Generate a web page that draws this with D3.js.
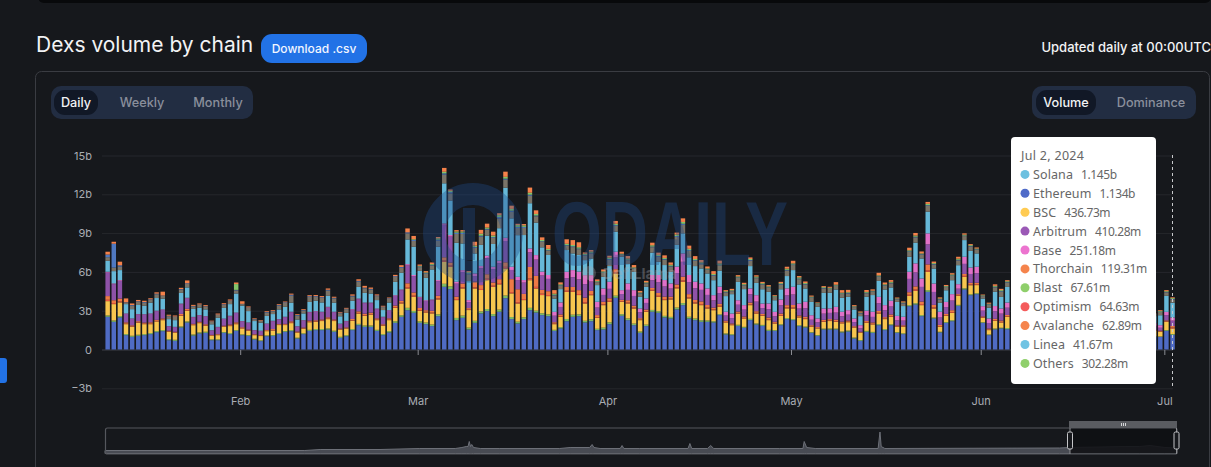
<!DOCTYPE html>
<html>
<head>
<meta charset="utf-8">
<title>Dexs volume by chain</title>
<script src="https://cdnjs.cloudflare.com/ajax/libs/d3/7.8.5/d3.min.js"></script>
<style>
    html, body { margin: 0; padding: 0; background: #16181c; overflow: hidden; }
    svg { display: block; font-family: Inter, "Noto Sans", sans-serif; }
</style>
</head>
<body>
<div id="chart"></div>
<script>
// Daily values in billions. Days behind the tooltip are left out.
const ethereum = [
    2.53,2.14,2.48,1.11,.98,1.06,1.11,1.19,1.34,1.42,
    .72,.67,1.70,2.09,1.08,1.24,1.29,.72,.72,1.29,
    1.19,1.44,1.11,1.06,.77,.65,1.03,1.06,1.19,1.37,
    1.42,.85,1.19,1.44,1.50,1.50,1.55,1.37,.90,1.03,
    1.50,1.88,1.75,1.75,1.44,1.11,1.32,2.06,2.53,3.04,
    2.84,2.06,1.96,1.81,2.58,4.85,4.67,2.27,2.45,1.55,
    2.06,2.79,2.97,2.58,2.92,3.97,2.35,2.01,2.35,3.04,
    2.86,2.66,2.58,1.44,1.63,2.19,2.53,2.58,2.09,2.19,
    1.50,1.55,1.96,4.00,2.61,2.27,1.88,1.29,1.81,2.92,
    2.84,2.48,2.40,3.10,3.43,2.40,2.27,2.14,2.14,2.09,
    2.66,1.16,1.11,1.83,1.68,2.27,1.93,1.83,1.44,1.44,
    1.88,2.35,2.27,1.81,1.70,1.29,1.06,1.55,1.55,1.55,
    1.32,1.39,.85,.67,1.37,1.29,1.88,1.50,1.88,1.29,
    1.19,3.35,3.48,2.58,4.46,2.40,1.32,2.06,2.19,3.38,
    4.64,4.20,4.28,2.06,1.11,1.55,1.63,1.57,.98,.98,1.44,1.134
];
const othersLow = [
    .10,.10,.10,.08,.08,.08,.08,.08,.08,.08,
    .08,.08,.08,.08,.08,.08,.08,.06,.06,.06,
    .08,.06,.06,.06,.06,.06,.06,.06,.08,.06,
    .08,.06,.06,.08,.08,.08,.08,.08,.08,.08,
    .08,.10,.10,.10,.08,.08,.10,.12,.12,.18,
    .14,.12,.12,.12,.14,.23,.21,.17,.17,.14,
    .16,.15,.16,.16,.16,.20,.16,.14,.14,.18,
    .14,.14,.14,.08,.10,.17,.16,.14,.13,.15,
    .10,.14,.14,.16,.12,.13,.12,.10,.11,.14,
    .12,.12,.12,.14,.16,.13,.12,.12,.10,.09,
    .07,.08,.07,.08,.07,.10,.08,.07,.08,.06,
    .07,.08,.08,.07,.07,.05,.06,.06,.07,.06,
    .07,.07,.07,.06,.07,.07,.08,.08,.07,.05,
    .06,.08,.10,.08,.13,.07,.05,.06,.07,.07,
    .09,.07,.07,.05,.05,.07,.05,.09,.05,.03,.06,.06
];
const bsc = [
    1.11,1.27,1.06,.77,.69,.93,.77,.69,.75,.77,
    .57,.54,.82,.82,.72,.72,.46,.27,.33,.40,
    .54,.46,.46,.33,.28,.33,.33,.35,.62,.46,
    .54,.40,.35,.59,.56,.62,.72,.75,.56,.51,
    .64,.80,.75,.85,.75,.64,.85,1.04,.91,1.50,
    1.10,.81,.78,.86,1.15,1.70,1.52,1.38,2.10,1.36,
    2.50,1.66,2.24,2.11,1.96,2.10,1.83,1.41,1.33,2.14,
    1.72,1.41,1.41,.44,.80,2.10,1.77,1.49,1.34,1.86,
    .85,1.74,1.59,1.72,.96,1.16,1.17,.88,1.00,1.49,
    1.12,1.22,1.35,1.49,1.65,1.42,1.17,1.17,.93,.86,
    .58,.85,.70,.87,.65,1.06,.77,.70,.75,.51,
    .65,.75,.82,.60,.58,.41,.51,.53,.58,.53,
    .63,.65,.78,.56,.63,.58,.82,.77,.58,.41,
    .51,.72,.96,.77,1.42,.70,.39,.48,.58,.70,
    .89,.70,.63,.34,.34,.60,.41,.86,.40,.36,.64,.437
];
const optimism = [
    .10,.08,.08,.04,.04,.04,.04,.04,.04,.04,
    .03,.03,.05,.05,.04,.04,.04,.03,.03,.03,
    .04,.04,.03,.03,.03,.03,.03,.03,.03,.03,
    .04,.03,.03,.04,.04,.04,.04,.04,.03,.03,
    .04,.05,.05,.05,.04,.04,.04,.06,.06,.10,
    .08,.06,.06,.06,.08,.10,.10,.08,.08,.05,
    .08,.08,.10,.08,.10,.12,.10,.10,.08,.12,
    .12,.10,.08,.05,.06,.08,.08,.08,.10,.08,
    .06,.06,.07,.08,.05,.07,.07,.05,.05,.06,
    .07,.07,.06,.08,.09,.08,.07,.07,.07,.06,
    .07,.05,.05,.05,.05,.06,.06,.05,.06,.05,
    .06,.07,.07,.05,.06,.05,.04,.05,.05,.05,
    .05,.05,.04,.03,.05,.05,.06,.05,.06,.04,
    .04,.08,.09,.08,.12,.08,.05,.05,.06,.05,
    .07,.06,.06,.04,.04,.05,.05,.05,.03,.03,.04,.065
];
const thorchain = [
    .29,.22,.22,.10,.08,.08,.08,.10,.08,.09,
    .05,.05,.10,.10,.06,.06,.08,.05,.05,.06,
    .08,.10,.06,.06,.04,.04,.06,.08,.05,.06,
    .10,.05,.07,.08,.08,.08,.10,.08,.05,.06,
    .10,.12,.12,.10,.10,.08,.10,.12,.14,.30,
    .25,.16,.12,.14,.20,.25,.22,.18,.30,.10,
    .45,.30,.35,.25,.30,.35,1.00,1.00,.40,.90,
    .85,.30,.30,.10,.12,.30,.30,.30,.35,.25,
    .15,.20,.20,.25,.10,.18,.15,.10,.12,.15,
    .22,.20,.15,.22,.30,.25,.20,.22,.20,.14,
    .15,.08,.08,.10,.10,.14,.12,.10,.14,.08,
    .12,.18,.20,.10,.12,.08,.07,.10,.10,.12,
    .08,.08,.06,.05,.08,.10,.14,.10,.12,.07,
    .07,.20,.25,.20,.45,.20,.09,.10,.14,.08,
    .15,.12,.12,.07,.08,.10,.10,.10,.05,.05,.07,.119
];
const arbitrum = [
    1.82,1.24,1.37,.65,.50,.52,.62,.65,.67,.66,
    .34,.36,.75,.81,.51,.49,.60,.34,.53,.52,
    .64,.72,.45,.52,.30,.32,.47,.61,.36,.52,
    .70,.39,.54,.64,.67,.57,.76,.57,.36,.47,
    .71,.93,.81,.73,.71,.54,.59,.75,.83,1.38,
    1.27,.80,.71,.82,1.14,2.52,2.01,1.01,.89,.47,
    .43,1.30,1.23,1.04,1.23,1.65,.71,.71,.87,1.13,
    1.26,1.11,.95,.50,.58,.67,.75,.83,1.04,.72,
    .58,.53,.73,.90,.45,.80,.75,.45,.51,.60,
    .84,.78,.63,.88,1.15,.93,.91,.89,.78,.56,
    .83,.40,.42,.53,.53,.64,.74,.45,.64,.42,
    .63,.75,.81,.53,.66,.42,.36,.48,.48,.54,
    .42,.45,.32,.26,.45,.43,.59,.53,.61,.39,
    .36,1.03,1.08,1.13,1.55,1.00,.57,.53,.74,.42,
    .78,.69,.74,.44,.43,.59,.53,.56,.32,.23,.41,.41
];
const base = [
    .06,.06,.06,.04,.03,.03,.03,.04,.04,.04,
    .02,.02,.05,.05,.03,.03,.03,.02,.03,.03,
    .04,.04,.03,.03,.02,.02,.03,.03,.02,.03,
    .04,.02,.03,.04,.04,.03,.05,.03,.02,.03,
    .05,.06,.05,.05,.05,.04,.04,.05,.05,.10,
    .08,.06,.06,.06,.08,.10,.12,.15,.15,.15,
    .20,.18,.20,.18,.20,.25,.25,.25,.20,.30,
    .35,.30,.30,.30,.35,.50,.55,.60,.70,.50,
    .45,.50,.55,.45,.30,.50,.45,.30,.35,.40,
    .55,.50,.40,.50,.65,.55,.50,.50,.50,.40,
    .50,.30,.35,.35,.35,.45,.50,.35,.45,.35,
    .45,.55,.60,.40,.50,.35,.30,.40,.35,.45,
    .35,.35,.28,.25,.35,.40,.50,.40,.45,.35,
    .30,.55,.70,.65,.85,.65,.45,.40,.50,.35,
    .55,.50,.50,.35,.35,.40,.40,.40,.20,.20,.25,.251
];
const solana = [
    .85,.95,.77,.72,.72,.70,.65,.83,.98,.83,
    .54,.52,.83,.80,.62,.57,.52,.46,.70,.83,
    .90,1.47,1.19,.88,.70,.62,.59,.52,.75,.77,
    .70,.52,.52,.77,.80,.72,.85,.70,.57,.62,
    .65,.90,.75,.70,.65,.52,.59,1.03,1.29,1.91,
    2.19,2.01,1.73,2.32,2.58,3.10,2.67,3.01,2.06,1.47,
    1.55,1.63,1.55,1.76,2.51,3.87,3.74,3.22,3.48,3.50,
    2.51,1.88,1.55,1.03,1.03,1.68,1.29,1.29,1.16,1.29,
    1.29,.90,1.21,1.55,2.58,1.50,1.42,.90,.90,1.73,
    1.03,1.16,.90,1.68,1.55,1.37,1.21,1.16,1.16,1.16,
    1.24,1.21,1.50,1.42,1.24,1.73,.95,1.11,.90,.90,
    .80,.95,1.29,1.47,1.03,1.03,.90,1.21,1.21,1.34,
    1.08,1.03,.70,.70,1.08,1.29,1.24,1.21,1.03,1.08,
    .83,1.16,1.60,1.55,1.68,1.16,.70,.90,1.08,1.47,
    1.29,1.29,1.03,.59,.83,1.11,.90,1.21,.55,.77,1.24,1.145
];
const others = [
    .28,.27,.27,.11,.27,.25,.24,.22,.29,.21,
    .23,.25,.25,.27,.20,.22,.22,.19,.22,.24,
    .24,.24,.12,.24,.14,.14,.26,.22,.30,.30,
    .54,.30,.23,.38,.31,.36,.41,.33,.24,.29,
    .33,.41,.35,.31,.31,.23,.28,.38,.39,.47,
    .44,.29,.31,.31,.47,.67,.55,.68,.73,.53,
    .44,.63,.47,.47,.76,.62,.51,.56,.55,.58,
    .49,.42,.33,.25,.26,.33,.49,.45,.37,.40,
    .23,.30,.49,.45,.16,.30,.24,.25,.25,.42,
    .39,.42,.41,.61,.66,.49,.41,.34,.28,.35,
    .41,.29,.23,.31,.30,.42,.37,.35,.31,.25,
    .36,.43,.39,.41,.31,.31,.22,.33,.29,.27,
    .29,.26,.18,.21,.27,.26,.31,.29,.32,.21,
    .21,.37,.41,.29,.45,.31,.25,.25,.33,.37,
    .31,.33,.28,.19,.23,.34,.39,.33,.12,.25,.27,.24
];
const linea = [
    .20,1.85,.10,.03,.05,.04,.05,.04,.05,.03,
    .03,.03,.04,.05,.03,.03,.03,.03,.03,.04,
    .04,.04,.02,.04,.02,.02,.04,.03,.05,.05,
    .08,.05,.04,.06,.05,.05,.06,.05,.04,.04,
    .06,.06,.05,.05,.05,.04,.05,.06,.06,.08,
    .08,.05,.05,.05,.08,.10,.10,.10,.10,.08,
    .06,.08,.06,.06,.10,.08,.08,.08,.08,.08,
    .06,.05,.04,.04,.03,.05,.06,.05,.04,.05,
    .03,.04,.06,.06,.03,.04,.03,.03,.03,.05,
    .05,.05,.05,.07,.08,.06,.05,.05,.04,.05,
    .05,.03,.03,.04,.03,.05,.04,.04,.04,.03,
    .04,.05,.05,.05,.04,.04,.03,.04,.03,.04,
    .04,.04,.03,.03,.04,.03,.04,.04,.04,.03,
    .03,.05,.05,.04,.05,.04,.03,.03,.04,.05,
    .04,.04,.04,.03,.03,.04,.05,.04,.02,.03,.03,.042
];
const blast = [
    0,0,0,0,0,0,0,0,0,0,
    0,0,0,0,0,0,0,0,0,0,
    0,.45,0,0,0,0,0,0,0,0,
    0,0,0,0,0,0,0,0,0,0,
    0,0,0,0,0,0,0,0,0,0,
    .06,.05,.06,.06,.10,.12,.10,.10,.10,.08,
    .10,.15,.10,.12,.15,.14,.14,.14,.12,.15,
    .12,.10,.10,.08,.08,.10,.10,.10,.08,.08,
    .06,.08,.10,.10,.05,.08,.07,.06,.06,.10,
    .08,.08,.08,.12,.14,.10,.09,.08,.07,.08,
    .09,.06,.05,.07,.06,.08,.08,.08,.07,.05,
    .07,.09,.08,.09,.07,.06,.04,.07,.06,.06,
    .06,.06,.04,.04,.06,.05,.07,.07,.07,.04,
    .04,.08,.09,.06,.10,.07,.05,.05,.07,.08,
    .07,.07,.06,.04,.05,.07,.08,.07,.02,.05,.06,.068
];
const avalanche = [
    .22,.15,.28,.30,.12,.10,.10,.08,.10,.30,
    .08,.08,.10,.22,.08,.08,.08,.06,.08,.08,
    .08,.12,.20,.08,.05,.05,.06,.06,.06,.06,
    .08,.06,.06,.08,.08,.08,.10,.08,.05,.06,
    .10,.12,.14,.10,.08,.06,.06,.10,.14,.30,
    .25,.10,.10,.12,.10,.30,.10,.10,.10,.08,
    .30,.30,.30,.30,.15,.40,.25,.10,.10,.40,
    .28,.20,.30,.28,.15,.35,.38,.38,.10,.12,
    .12,.15,.15,.22,.15,.20,.18,.12,.12,.20,
    .18,.20,.18,.15,.28,.25,.22,.18,.15,.22,
    .22,.08,.10,.10,.10,.12,.10,.10,.10,.06,
    .10,.15,.20,.10,.12,.08,.05,.08,.08,.20,
    .20,.18,.08,.08,.15,.10,.20,.14,.14,.06,
    .08,.20,.20,.15,.15,.12,.08,.08,.10,.15,
    .10,.08,.08,.05,.08,.12,.10,.08,.04,.06,.08,.063
];

// Total volume over the whole history for the overview strip: day number and value
const overviewDays = [
    0,327,352,450,515,573,584,591,594,596,598,600,603,614,646,744,761,793,797,800,810,843,846,849,875,
    954,957,960,986,991,996,1104,1142,1144,1148,1162,1265,1268,1270,1276,1562,1579,1628,1669,1693,1710,1734,1754
];
const overviewVolume = [
    3,3,4,4,5,5,6,7,7,12,7,9,6,5,5,5,6,6,9,6,5,5,8,5,5,
    5,10,5,5,8,5,5,5,12,6,5,5,21.5,7,5,5.5,6,6.5,7,7,8,6,5.5
];

const yTicks = [-3, 0, 3, 6, 9, 12, 15];
const yTickLabels = ['\u22123b', '0', '3b', '6b', '9b', '12b', '15b'];

const tooltipTitle = 'Jul 2, 2024';
const chainNames = ['Solana', 'Ethereum', 'BSC', 'Arbitrum', 'Base', 'Thorchain', 'Blast', 'Optimism', 'Avalanche', 'Linea', 'Others'];
const chainValues = ['1.145b', '1.134b', '436.73m', '410.28m', '251.18m', '119.31m', '67.61m', '64.63m', '62.89m', '41.67m', '302.28m'];
const chainDots = ['#6cc0e0', '#4f6bc8', '#ffcb52', '#9b59b6', '#ec74cf', '#f5844c', '#8fcf6b', '#f45b5b', '#f5844c', '#6fc3e3', '#8fcf6b'];

// Bottom to top, the way the bars are stacked
const stackSeries = [
    { values: ethereum, color: '#4f6bc4' },
    { values: othersLow, color: '#7dbb66' },
    { values: bsc, color: '#f7c64f' },
    { values: optimism, color: '#e8553f' },
    { values: thorchain, color: '#ee7a45' },
    { values: arbitrum, color: '#8e52a8' },
    { values: base, color: '#e070c8' },
    { values: solana, color: '#66b8d8' },
    { values: others, color: '#7a7468' },
    { values: linea, color: '#4f78c0' },
    { values: blast, color: '#84c46a' },
    { values: avalanche, color: '#f5824a' }
];

const width = 1211, height = 467;
const svg = d3.select('#chart').append('svg')
    .attr('width', width)
    .attr('height', height);

// Page furniture
svg.append('rect').attr('x', 38).attr('y', -10).attr('width', 1173).attr('height', 13).attr('rx', 6).attr('fill', '#08090b');
svg.append('rect').attr('x', -6).attr('y', 358).attr('width', 13).attr('height', 25).attr('rx', 3).attr('fill', '#2272e6');
svg.append('text').attr('x', 36).attr('y', 52).attr('fill', '#f2f3f5').attr('font-size', 21).text('Dexs volume by chain');
svg.append('rect').attr('x', 261).attr('y', 34).attr('width', 106).attr('height', 29).attr('rx', 11).attr('fill', '#2272e6');
svg.append('text').attr('x', 314).attr('y', 52.5).attr('text-anchor', 'middle').attr('fill', '#f2f6ff')
    .attr('font-size', 12).attr('font-weight', 500).text('Download .csv');
svg.append('text').attr('x', 1211).attr('y', 52).attr('text-anchor', 'end').attr('fill', '#f2f3f5')
    .attr('font-size', 13).attr('font-weight', 500).text('Updated daily at 00:00UTC');
svg.append('rect').attr('x', 35.5).attr('y', 71.5).attr('width', 1174).attr('height', 420).attr('rx', 6)
    .attr('fill', 'none').attr('stroke', '#3a3c42');

function toggleGroup(x, w, pillX, pillW, labels) {
    svg.append('rect').attr('x', x).attr('y', 86).attr('width', w).attr('height', 33).attr('rx', 10).attr('fill', '#222d42');
    svg.append('rect').attr('x', pillX).attr('y', 90).attr('width', pillW).attr('height', 25).attr('rx', 11).attr('fill', '#111826');
    labels.forEach(function (d, i) {
        svg.append('text').attr('x', d.x).attr('y', 107).attr('text-anchor', 'middle')
            .attr('fill', i === 0 ? '#f2f3f5' : '#8a8f9c')
            .attr('font-size', 12.7).attr('font-weight', 500).text(d.label);
    });
}
toggleGroup(51, 202, 54, 44, [{ x: 76, label: 'Daily' }, { x: 142, label: 'Weekly' }, { x: 218, label: 'Monthly' }]);
toggleGroup(1032, 164, 1036, 60, [{ x: 1066, label: 'Volume' }, { x: 1151, label: 'Dominance' }]);

// Scales
const allDays = d3.utcDay.range(new Date(Date.UTC(2024, 0, 10)), new Date(Date.UTC(2024, 6, 3)));
const visibleDays = d3.utcDay.range(new Date(Date.UTC(2024, 0, 10)), new Date(Date.UTC(2024, 5, 6)))
    .concat(d3.utcDay.range(new Date(Date.UTC(2024, 5, 29)), new Date(Date.UTC(2024, 6, 3))));

const x = d3.scaleBand().domain(allDays).range([104.6, 1175.6]).paddingInner(.27).paddingOuter(.135);
const y = d3.scaleLinear().domain([-3, 15]).range([388.3, 155.5]);

// Y axis with grid lines
const yAxis = svg.append('g')
    .attr('transform', 'translate(102,0)')
    .call(d3.axisLeft(y).tickValues(yTicks).tickSize(0).tickPadding(10)
        .tickFormat(function (d, i) { return yTickLabels[i]; }));
yAxis.select('.domain').remove();
yAxis.selectAll('text').attr('fill', '#a9acb3').attr('font-size', 11).attr('font-family', 'Inter');
svg.append('g').selectAll('line').data(yTicks).join('line')
    .attr('x1', 102).attr('x2', 1173)
    .attr('y1', function (d) { return y(d) + .5; }).attr('y2', function (d) { return y(d) + .5; })
    .attr('stroke', function (d) { return d === 0 ? '#3c3f47' : '#25272c'; });

// Stacked bars
const table = visibleDays.map(function (day, i) {
    const row = { day: day };
    stackSeries.forEach(function (s, j) { row[j] = s.values[i]; });
    return row;
});
const layers = d3.stack().keys(stackSeries.map(function (s, j) { return j; }))(table);

svg.append('g').selectAll('g').data(layers).join('g')
    .attr('fill', function (d, j) { return stackSeries[j].color; })
    .selectAll('rect').data(function (d) { return d; }).join('rect')
    .attr('x', function (d) { return x(d.data.day); })
    .attr('width', x.bandwidth())
    .attr('y', function (d) { return y(d[1]); })
    .attr('height', function (d) { return y(d[0]) - y(d[1]); });

// X axis: ticks sit on the zero line, labels below the chart
const xAxis = svg.append('g')
    .attr('transform', 'translate(-1.6,' + (y(0) + .5) + ')')
    .call(d3.axisBottom(x)
        .tickValues(allDays.filter(function (d) { return d.getUTCDate() === 1; }))
        .tickSize(5).tickPadding(42)
        .tickFormat(d3.utcFormat('%b')));
xAxis.select('.domain').remove();
xAxis.selectAll('line').attr('stroke', '#8a8c92');
xAxis.selectAll('text').attr('fill', '#a9acb3').attr('font-size', 11).attr('font-family', 'Inter');

// Watermarks lie over the bars
const mark = svg.append('g');
mark.append('circle').attr('cx', 473).attr('cy', 233).attr('r', 39).attr('fill', 'none')
    .attr('stroke', '#1f4a8a').attr('stroke-width', 22).attr('opacity', .36);
mark.append('rect').attr('x', 463).attr('y', 208).attr('width', 12).attr('height', 52).attr('fill', '#1f4a8a').attr('opacity', .36);
mark.append('text').attr('x', 552).attr('y', 265).attr('font-family', 'Liberation Sans').attr('font-weight', 700)
    .attr('font-size', 90).attr('textLength', 236).attr('lengthAdjust', 'spacingAndGlyphs')
    .attr('fill', '#1f4a8a').attr('opacity', .36).text('ODAILY');
mark.append('circle').attr('cx', 589).attr('cy', 273).attr('r', 7).attr('fill', '#a9acb3').attr('opacity', .3);
mark.append('text').attr('x', 603).attr('y', 279).attr('font-weight', 700).attr('font-size', 15)
    .attr('fill', '#a9acb3').attr('opacity', .35).text('DefiLlama');

// Overview strip
const ox = d3.scaleLinear().domain([0, 1754]).range([105, 1177]);
const oy = d3.scaleLinear().domain([0, 21.5]).range([453.5, 432]);
svg.append('path').datum(overviewVolume)
    .attr('fill', '#484b53').attr('stroke', '#6d7078').attr('stroke-width', 1)
    .attr('d', d3.area().x(function (d, i) { return ox(overviewDays[i]); }).y0(oy(0)).y1(function (d) { return oy(d); }));
svg.append('rect').attr('x', 1070).attr('y', 428).attr('width', 107).attr('height', 25.5).attr('fill', '#0f1013').attr('opacity', .88);
svg.append('rect').attr('x', 105.5).attr('y', 428).attr('width', 1071.5).attr('height', 26).attr('rx', 2)
    .attr('fill', 'none').attr('stroke', '#55575d').attr('stroke-width', 1.2);
svg.append('rect').attr('x', 1069).attr('y', 421).attr('width', 108).attr('height', 7).attr('fill', '#5a5c61');
[1121, 1123, 1125].forEach(function (gx) {
    svg.append('rect').attr('x', gx).attr('y', 423).attr('width', 1).attr('height', 3).attr('fill', '#d5d6d8');
});
[1070, 1176.5].forEach(function (hx) {
    svg.append('line').attr('x1', hx).attr('x2', hx).attr('y1', 428).attr('y2', 454).attr('stroke', '#8a8c90');
    svg.append('rect').attr('x', hx - 2.5).attr('y', 432).attr('width', 5).attr('height', 17).attr('rx', 1.5)
        .attr('fill', '#16181c').attr('stroke', '#c4c5c8');
});

// Pointer line and tooltip for the last day
svg.append('line').attr('x1', 1172.5).attr('x2', 1172.5).attr('y1', 155).attr('y2', 389)
    .attr('stroke', '#c8c9cc').attr('stroke-dasharray', '3,3');
svg.append('rect').attr('x', 1011).attr('y', 137).attr('width', 145).attr('height', 247).attr('rx', 4).attr('fill', '#ffffff');
svg.append('text').attr('x', 1021).attr('y', 160).attr('fill', '#666666').attr('font-size', 12.5)
    .attr('font-family', 'Noto Sans').attr('letter-spacing', .3).text(tooltipTitle);
const rows = svg.append('g').selectAll('g').data(chainNames).join('g')
    .attr('transform', function (d, i) { return 'translate(0,' + (174.4 + i * 18.9) + ')'; });
rows.append('circle').attr('cx', 1025).attr('r', 4.5).attr('fill', function (d, i) { return chainDots[i]; });
const rowText = rows.append('text').attr('x', 1033).attr('y', 4.5).attr('fill', '#666666')
    .attr('font-size', 12.5).attr('font-family', 'Noto Sans');
rowText.append('tspan').attr('letter-spacing', .1).text(function (d) { return d; });
rowText.append('tspan').attr('dx', 8).attr('font-size', 12).attr('letter-spacing', -.4)
    .text(function (d, i) { return chainValues[i]; });
</script>
</body>
</html>
